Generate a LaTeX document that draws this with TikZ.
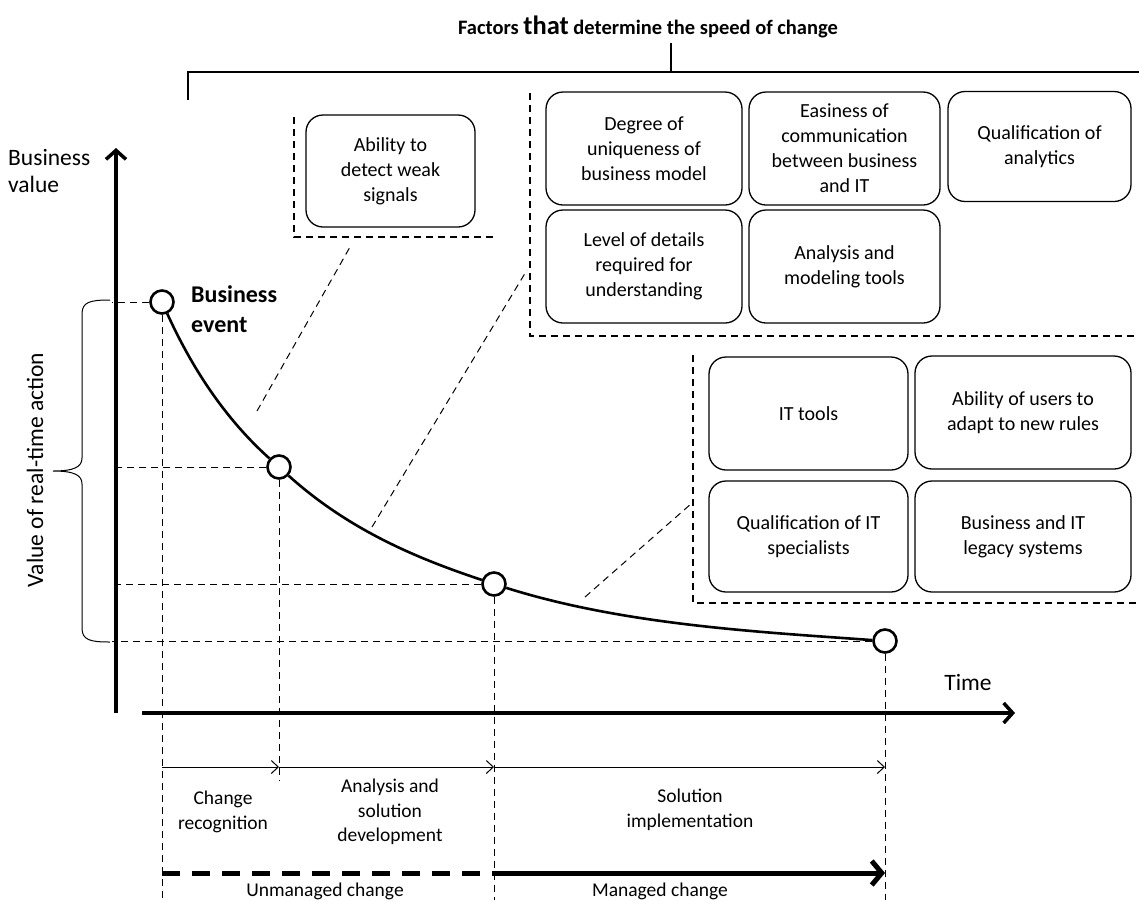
\documentclass[tikz,border=0pt]{standalone}
\usepackage{fontspec}
\setmainfont{Carlito}
\usetikzlibrary{arrows.meta}
\begin{document}
\begin{tikzpicture}[x=1pt,y=-1pt,
  box/.style={draw, line width=1.3pt, rounded corners=17pt, align=center, inner sep=0pt,
    font=\fontsize{20}{25}\selectfont},
  guide/.style={line width=1pt, dash pattern=on 7pt off 5pt},
  frame/.style={line width=1.1pt, dash pattern=on 7pt off 5pt},
  pt/.style={circle, draw, line width=2.6pt, fill=white, minimum size=23pt, inner sep=0pt},
  axis/.style={line width=3.5pt, -{Straight Barb[length=9pt,width=20pt]}},
  span/.style={line width=1pt, -{Straight Barb[length=7pt,width=13pt]}},
  curve/.style={line width=2.6pt},
  lbl/.style={align=center, font=\fontsize{19.5}{24.5}\selectfont, inner sep=0pt},
  big/.style={font=\fontsize{23.5}{27}\selectfont, inner sep=0pt}
]
\useasboundingbox (0,0) rectangle (1139,900);

% title and bracket
\node[font=\bfseries\fontsize{20.5}{24}\selectfont, inner sep=0pt] (title) at (648,27)
  {Factors {\fontsize{26.5}{28}\selectfont that} determine the speed of change};
\coordinate (brL) at (188,100);
\coordinate (brLt) at (188,72);
\coordinate (brR) at (1139,72);
\coordinate (brS) at (671,72);
\coordinate (brSt) at (671,43);
\draw[line width=1.2pt] (brL) -- (brLt) -- (brR);
\draw[line width=1.2pt] (brS) -- (brSt);

% group A
\node[box, minimum width=169pt, minimum height=112pt] (ba) at (390.5,171) {Ability to\\detect weak\\signals};
\coordinate (gaT) at (294,117);
\coordinate (gaC) at (294,237);
\coordinate (gaR) at (495,237);
\draw[frame] (gaT) -- (gaC) -- (gaR);

% group B
\node[box, minimum width=196pt, minimum height=113pt] (b1) at (644,148.5) {Degree of\\uniqueness of\\business model};
\node[box, minimum width=191pt, minimum height=113pt] (b2) at (844.5,148.5) {Easiness of\\communication\\between business\\and IT};
\node[box, minimum width=183pt, minimum height=110pt] (b3) at (1039.5,146.5) {Qualification of\\analytics};
\node[box, minimum width=196pt, minimum height=113pt] (b4) at (644,266.5) {Level of details\\required for\\understanding};
\node[box, minimum width=191pt, minimum height=113pt] (b5) at (844.5,266.5) {Analysis and\\modeling tools};
\coordinate (gbT) at (530,93);
\coordinate (gbC) at (530,336);
\coordinate (gbR) at (1139,336);
\draw[frame] (gbT) -- (gbC) -- (gbR);

% group C
\node[box, minimum width=199pt, minimum height=113pt] (c1) at (808.5,413.5) {IT tools};
\node[box, minimum width=216pt, minimum height=113pt] (c2) at (1023,412.5) {Ability of users to\\adapt to new rules};
\node[box, minimum width=199pt, minimum height=111pt] (c3) at (808.5,536.5) {Qualification of IT\\specialists};
\node[box, minimum width=216pt, minimum height=111pt] (c4) at (1023,536.5) {Business and IT\\legacy systems};
\coordinate (gcT) at (693,355);
\coordinate (gcC) at (693,603);
\coordinate (gcR) at (1139,603);
\draw[frame] (gcT) -- (gcC) -- (gcR);

% pointer lines to groups
\coordinate (la1) at (257,411); \coordinate (la2) at (350,247);
\coordinate (lb1) at (372,527); \coordinate (lb2) at (527,270);
\coordinate (lc1) at (585,597); \coordinate (lc2) at (692,503);
\draw[guide] (la1) -- (la2);
\draw[guide] (lb1) -- (lb2);
\draw[guide] (lc1) -- (lc2);

% axes
\coordinate (yb) at (116,713); \coordinate (yt) at (116,148);
\coordinate (xl) at (142,713); \coordinate (xr) at (1015,713);
\draw[axis] (yb) -- (yt);
\draw[axis] (xl) -- (xr);
\node[big, align=left, anchor=west] (bv) at (8,171) {Business\\value};
\node[big] (time) at (968,682) {Time};
\node[big, rotate=90] (vra) at (35,470) {Value of real-time action};

% brace
\draw[line width=1pt] (110,300) .. controls (90,300) and (82,302) .. (82,314) -- (82,458)
  .. controls (82,467) and (74,471) .. (53,471)
  .. controls (74,471) and (82,475) .. (82,484) -- (82,628)
  .. controls (82,640) and (90,642) .. (110,642);

% points
\node[pt] (p1) at (162,302) {};
\node[pt] (p2) at (279,467) {};
\node[pt] (p3) at (494,584) {};
\node[pt] (p4) at (885,641) {};
\node[font=\bfseries\fontsize{24}{30}\selectfont, align=left, anchor=west, inner sep=0pt] (be) at (191,309) {Business\\event};

% guides
\coordinate (ax) at (112,0);
\coordinate (bot) at (0,900);
\coordinate (mid) at (0,780);
\draw[guide] (p1) -- (p1 -| ax);
\draw[guide] (p2) -- (p2 -| ax);
\draw[guide] (p3) -- (p3 -| ax);
\draw[guide] (p4) -- (p4 -| ax);
\draw[guide] (p1) -- (p1 |- bot);
\draw[guide] (p2) -- (p2 |- mid);
\draw[guide] (p3) -- (p3 |- bot);
\draw[guide] (p4) -- (p4 |- bot);

% curve
\draw[curve] (p1) .. controls (201,388) and (240,432) .. (p2)
  .. controls (351,532) and (422,560) .. (p3)
  .. controls (624,625) and (760,632) .. (p4);

% spans
\coordinate (sy) at (0,767);
\draw[span] (p1 |- sy) -- (p2 |- sy);
\draw[span] (p2 |- sy) -- (p3 |- sy);
\draw[span] (p3 |- sy) -- (p4 |- sy);
\node[lbl] (l1) at (223,812) {Change\\recognition};
\node[lbl] (l2) at (390,812) {Analysis and\\solution\\development};
\node[lbl] (l3) at (690,810) {Solution\\implementation};

\coordinate (ty) at (0,873);
\draw[line width=5pt, dash pattern=on 18pt off 12pt] (p1 |- ty) -- (p3 |- ty);
\draw[line width=5pt, -{Straight Barb[length=10pt,width=24pt]}] (p3 |- ty) -- (p4 |- ty);
\node[lbl] (u) at (325,891) {Unmanaged change};
\node[lbl] (m) at (660,891) {Managed change};
\end{tikzpicture}
\end{document}
